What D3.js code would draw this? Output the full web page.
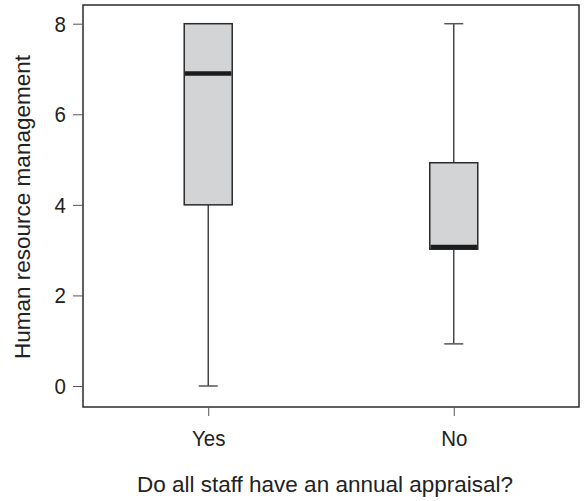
<!DOCTYPE html>
<html>
<head>
<meta charset="utf-8">
<script src="https://cdn.jsdelivr.net/npm/d3@7"></script>
<style>
  body { margin: 0; background: #fff; }
  svg { display: block; font-family: "Liberation Sans", Arial, sans-serif; }
</style>
</head>
<body>
<div class="graph-container"></div>
<script>
// data
const categories = ['Yes', 'No'];
const lowerWhisker = [0, 0.93];
const q1 = [4.0, 3.02];
const median = [6.9, 3.07];
const q3 = [8, 4.93];
const upperWhisker = [8, 8];
const yTicks = [0, 2, 4, 6, 8];
const xTitle = 'Do all staff have an annual appraisal?';
const yTitle = 'Human resource management';

// graph constants
const w = 588;
const h = 501;
const plotLeft = 83;
const plotRight = 579;
const plotTop = 5;
const plotBottom = 407;
const boxWidth = 48;
const capWidth = 19;
const ink = '#2b2b2b';
const tickFont = 20.5;
const stretch = 1.12; // tick labels in the original are a bit taller than Liberation

const svg = d3.select('div.graph-container')
    .append('svg')
    .attr('width', w)
    .attr('height', h);

// x scale: one point per group
const xScale = d3.scalePoint()
    .domain(categories)
    .range([plotLeft, plotRight])
    .padding(0.51);

// y scale (extended a bit past 0..8 like the original)
const yScale = d3.scaleLinear()
    .domain([-0.464, 8.413])
    .range([plotBottom, plotTop]);

const rows = categories.map((c, i) => ({
    cat: c, lo: lowerWhisker[i], q1: q1[i], med: median[i], q3: q3[i], hi: upperWhisker[i]
}));

const groups = svg.selectAll('g.box')
    .data(rows)
    .enter()
    .append('g')
    .attr('class', 'box');

// whiskers
groups.append('line')
    .attr('x1', d => xScale(d.cat))
    .attr('x2', d => xScale(d.cat))
    .attr('y1', d => yScale(d.q3))
    .attr('y2', d => yScale(d.hi))
    .attr('stroke', ink)
    .attr('stroke-width', 1.3);
groups.append('line')
    .attr('x1', d => xScale(d.cat))
    .attr('x2', d => xScale(d.cat))
    .attr('y1', d => yScale(d.q1))
    .attr('y2', d => yScale(d.lo))
    .attr('stroke', ink)
    .attr('stroke-width', 1.3);
// caps (only where the whisker sticks out of the box)
groups.filter(d => d.hi > d.q3)
    .append('line')
    .attr('x1', d => xScale(d.cat) - capWidth / 2)
    .attr('x2', d => xScale(d.cat) + capWidth / 2)
    .attr('y1', d => yScale(d.hi))
    .attr('y2', d => yScale(d.hi))
    .attr('stroke', '#555')
    .attr('stroke-width', 1.5);
groups.filter(d => d.lo < d.q1)
    .append('line')
    .attr('x1', d => xScale(d.cat) - capWidth / 2)
    .attr('x2', d => xScale(d.cat) + capWidth / 2)
    .attr('y1', d => yScale(d.lo))
    .attr('y2', d => yScale(d.lo))
    .attr('stroke', '#555')
    .attr('stroke-width', 1.5);

groups.append('rect')
    .attr('x', d => xScale(d.cat) - boxWidth / 2)
    .attr('width', boxWidth)
    .attr('y', d => yScale(d.q3))
    .attr('height', d => yScale(d.q1) - yScale(d.q3))
    .attr('fill', '#d3d4d6')
    .attr('stroke', ink)
    .attr('stroke-width', 1.5);

// median
groups.append('line')
    .attr('x1', d => xScale(d.cat) - boxWidth / 2 + 0.8)
    .attr('x2', d => xScale(d.cat) + boxWidth / 2 - 0.8)
    .attr('y1', d => yScale(d.med))
    .attr('y2', d => yScale(d.med))
    .attr('stroke', '#1c1c1c')
    .attr('stroke-width', 4.5);

// frame
svg.append('rect')
    .attr('x', plotLeft)
    .attr('y', plotTop)
    .attr('width', plotRight - plotLeft)
    .attr('height', plotBottom - plotTop)
    .attr('fill', 'none')
    .attr('stroke', ink)
    .attr('stroke-width', 1.5);

// y axis
const yAxis = d3.axisLeft(yScale).tickValues(yTicks).tickSize(10).tickPadding(7);
const yG = svg.append('g')
    .attr('transform', `translate(${plotLeft}, 0)`)
    .call(yAxis);
yG.select('.domain').remove();
yG.selectAll('.tick line').attr('stroke', '#555').attr('stroke-width', 1);
yG.selectAll('.tick text')
    .attr('font-size', tickFont)
    .attr('fill', '#222')
    .attr('transform', `scale(1, ${stretch})`);

// x axis
const xAxis = d3.axisBottom(xScale).tickSize(9);
const xG = svg.append('g')
    .attr('transform', `translate(0, ${plotBottom})`)
    .call(xAxis);
xG.select('.domain').remove();
xG.selectAll('.tick line').attr('stroke', '#555').attr('stroke-width', 1);
xG.selectAll('.tick text')
    .attr('font-size', tickFont)
    .attr('fill', '#222')
    .attr('dy', 0)
    .attr('y', 39 / stretch)
    .attr('transform', `scale(1, ${stretch})`);

// axis titles
svg.append('text')
    .attr('x', 325)
    .attr('y', 492)
    .attr('text-anchor', 'middle')
    .attr('font-size', 22.5)
    .attr('fill', '#222')
    .text(xTitle);

svg.append('text')
    .attr('transform', `translate(30, 207) rotate(-90)`)
    .attr('text-anchor', 'middle')
    .attr('font-size', 22.5)
    .attr('fill', '#222')
    .text(yTitle);
</script>
</body>
</html>
